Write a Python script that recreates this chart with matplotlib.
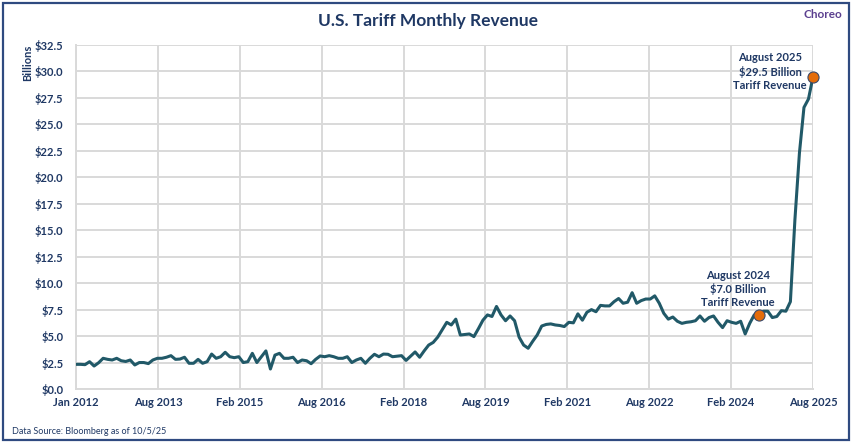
import matplotlib
matplotlib.use("Agg")
import matplotlib.pyplot as plt
import numpy as np
from matplotlib.patches import Rectangle

# ---- data ----
revenue = [
    2.33, 2.33, 2.30, 2.58, 2.17, 2.48, 2.90, 2.80, 2.74, 2.90, 2.67, 2.60,   # 2012
    2.74, 2.27, 2.50, 2.50, 2.40, 2.74, 2.90, 2.90, 3.00, 3.15, 2.80, 2.83,   # 2013
    3.00, 2.43, 2.43, 2.80, 2.43, 2.58, 3.30, 2.90, 3.05, 3.47, 3.05, 2.96,   # 2014
    3.05, 2.50, 2.58, 3.37, 2.50, 3.05, 3.60, 1.89, 3.20, 3.37, 2.90, 2.90,   # 2015
    3.00, 2.50, 2.74, 2.67, 2.39, 2.80, 3.12, 3.05, 3.15, 3.05, 2.90, 2.90,   # 2016
    3.05, 2.50, 2.74, 2.90, 2.43, 2.90, 3.28, 3.05, 3.30, 3.28, 3.05, 3.10,   # 2017
    3.15, 2.70, 3.10, 3.50, 3.00, 3.60, 4.15, 4.40, 4.90, 5.60, 6.30, 6.05,   # 2018
    6.60, 5.10, 5.15, 5.20, 4.95, 5.70, 6.50, 7.00, 6.85, 7.80, 7.00, 6.45,   # 2019
    6.90, 6.45, 4.90, 4.15, 3.85, 4.50, 5.10, 5.95, 6.10, 6.15, 6.05, 6.00,   # 2020
    5.90, 6.30, 6.25, 7.10, 6.50, 7.25, 7.50, 7.30, 7.90, 7.85, 7.85, 8.25,   # 2021
    8.55, 8.10, 8.20, 9.10, 8.10, 8.35, 8.50, 8.50, 8.80, 8.10, 7.15, 6.60,   # 2022
    6.80, 6.40, 6.20, 6.30, 6.35, 6.45, 6.90, 6.40, 6.75, 6.90, 6.30, 5.80,   # 2023
    6.45, 6.30, 6.20, 6.40, 5.20, 6.20, 7.00, 7.00, 7.35, 7.35, 6.75, 6.85,   # 2024
    7.40, 7.35, 8.25, 16.0, 22.3, 26.6, 27.4, 29.5,                           # 2025 (Jan-Aug)
]
x_tick_labels = ["Jan 2012", "Aug 2013", "Feb 2015", "Aug 2016", "Feb 2018",
                 "Aug 2019", "Feb 2021", "Aug 2022", "Feb 2024", "Aug 2025"]
y_ticks = [0, 2.5, 5, 7.5, 10, 12.5, 15, 17.5, 20, 22.5, 25, 27.5, 30, 32.5]
highlight_idx = [151, 163]
highlight_text = ["August 2024\n$7.0 Billion\nTariff Revenue",
                  "August 2025\n$29.5 Billion\nTariff Revenue"]

# ---- style ----
FONT = ["Lato", "DejaVu Sans"]
plt.rcParams["font.family"] = FONT
NAVY = "#1f3864"
LINE = "#215968"
GRID = "#d9d9d9"
ORANGE = "#e46c0a"

W, H = 857, 442
fig = plt.figure(figsize=(W / 100, H / 100), dpi=100)
fig.patch.set_facecolor("white")

L, R, T, B = 76, 813, 45, 389
ax = fig.add_axes([L / W, 1 - B / H, (R - L) / W, (B - T) / H])

x = np.arange(len(revenue))
ax.plot(x, revenue, color=LINE, lw=2.2, solid_joinstyle="round", zorder=3)

ax.set_xlim(0, len(revenue) - 1)
ax.set_ylim(0, 32.5)

xt = np.linspace(0, len(revenue) - 1, len(x_tick_labels))
ax.set_xticks(xt)
ax.set_xticklabels(x_tick_labels)
ax.set_yticks(y_ticks)
ax.set_yticklabels([f"${v:.1f}" for v in y_ticks])

ax.tick_params(axis="both", length=0, colors=NAVY, labelsize=8)
ax.tick_params(axis="y", pad=9)
ax.tick_params(axis="x", pad=6)
for lab in ax.get_xticklabels() + ax.get_yticklabels():
    lab.set_fontweight("bold")
    lab.set_color(NAVY)

ax.grid(True, color=GRID, lw=1.4)
ax.set_axisbelow(True)
for s in ["top", "right"]:
    ax.spines[s].set_visible(False)
for s in ["left", "bottom"]:
    ax.spines[s].set_color(GRID)
    ax.spines[s].set_linewidth(1.4)

# highlight markers + annotations
offsets = [(-21, 26), (-43, 5)]
for idx, txt, off in zip(highlight_idx, highlight_text, offsets):
    ax.plot(idx, revenue[idx], "o", ms=8, mfc=ORANGE, mec="#3a4a6b", mew=0.8,
            zorder=5, clip_on=False)
    ax.annotate(txt, xy=(idx, revenue[idx]), xytext=off, textcoords="offset pixels",
                ha="center", va="center", fontsize=8, fontweight="bold",
                color=NAVY, linespacing=1.25, zorder=6)

# texts
fig.text(428 / W, 1 - 21 / H, "U.S. Tariff Monthly Revenue", ha="center", va="center",
         fontsize=12.5, fontweight="bold", color=NAVY)
fig.text(842 / W, 1 - 15 / H, "Choreo", ha="right", va="center",
         fontsize=8.5, fontweight="bold", color="#5b3f8f")
fig.text(28 / W, 1 - 45 / H, "Billions", ha="center", va="top", rotation=90,
         fontsize=8, fontweight="bold", color=NAVY)
fig.text(12 / W, 1 - 432 / H, "Data Source: Bloomberg as of 10/5/25", ha="left",
         va="center", fontsize=6.5, color=NAVY)

# outer frame
fig.patches.append(Rectangle((3 / W, 1 - 440 / H), 846 / W, 437 / H,
                             transform=fig.transFigure, fill=False,
                             edgecolor="#2f4a80", lw=1.6))

fig.savefig("out.png", dpi=100, facecolor="white")
